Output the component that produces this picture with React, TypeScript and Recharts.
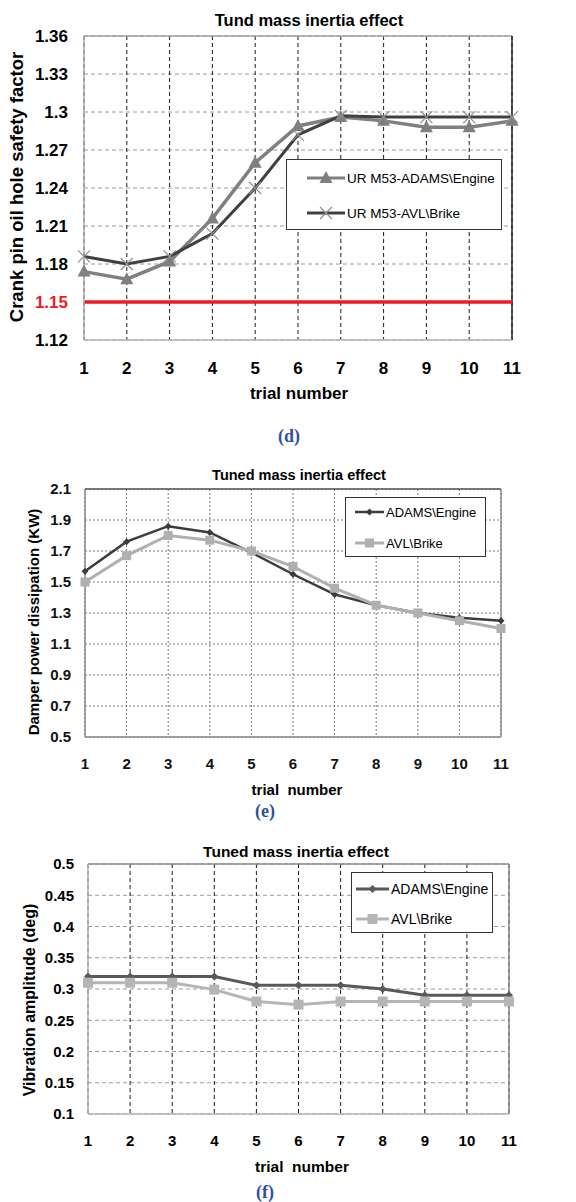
import React from 'react';
import { LineChart, Line, XAxis, YAxis, CartesianGrid, ReferenceLine, Legend } from 'recharts';

const sans = '"Liberation Sans", Arial, sans-serif';
const serif = '"Liberation Serif", "Times New Roman", serif';

// shared x categories
const trials = [1, 2, 3, 4, 5, 6, 7, 8, 9, 10, 11];

// (d) crank pin oil hole safety factor
const safetyAdams = [1.174, 1.168, 1.182, 1.216, 1.26, 1.289, 1.296, 1.293, 1.288, 1.288, 1.293];
const safetyAvl = [1.186, 1.18, 1.186, 1.204, 1.24, 1.282, 1.297, 1.296, 1.296, 1.296, 1.296];
const safetyTicks = [1.12, 1.15, 1.18, 1.21, 1.24, 1.27, 1.3, 1.33, 1.36];
const safetyLimit = 1.15;

// (e) damper power dissipation
const powerAdams = [1.57, 1.76, 1.86, 1.82, 1.69, 1.55, 1.42, 1.35, 1.3, 1.27, 1.25];
const powerAvl = [1.5, 1.67, 1.8, 1.77, 1.7, 1.6, 1.46, 1.35, 1.3, 1.25, 1.2];
const powerTicks = [0.5, 0.7, 0.9, 1.1, 1.3, 1.5, 1.7, 1.9, 2.1];

// (f) vibration amplitude
const ampAdams = [0.32, 0.32, 0.32, 0.32, 0.306, 0.306, 0.306, 0.3, 0.29, 0.29, 0.29];
const ampAvl = [0.31, 0.31, 0.31, 0.299, 0.28, 0.275, 0.28, 0.28, 0.28, 0.28, 0.28];
const ampTicks = [0.1, 0.15, 0.2, 0.25, 0.3, 0.35, 0.4, 0.45, 0.5];

const rows = (a: number[], b: number[]) => trials.map((t, i) => ({ trial: t, adams: a[i], avl: b[i] }));

// markers
const triangle = (cx: number, cy: number, key?: any) => (
  <path key={key} d={`M${cx},${cy - 7}L${cx + 6.5},${cy + 5}L${cx - 6.5},${cy + 5}Z`} fill="#7f7f7f" />
);
const cross = (cx: number, cy: number, key?: any) => (
  <path key={key} d={`M${cx - 6},${cy - 6}L${cx + 6},${cy + 6}M${cx - 6},${cy + 6}L${cx + 6},${cy - 6}`} stroke="#8f8f8f" strokeWidth={1.2} fill="none" />
);
const diamond = (s: number, color: string) => (cx: number, cy: number, key?: any) => (
  <path key={key} d={`M${cx},${cy - s}L${cx + s},${cy}L${cx},${cy + s}L${cx - s},${cy}Z`} fill={color} />
);
const square = (s: number, color: string) => (cx: number, cy: number, key?: any) => (
  <rect key={key} x={cx - s} y={cy - s} width={s * 2} height={s * 2} fill={color} />
);

const asDot = (m: (cx: number, cy: number, key?: any) => React.ReactElement) => (p: any) =>
  p.cx == null ? <g key={p.index} /> : m(p.cx, p.cy, p.index);

type Item = { name: string; color: string; width: number; marker: (cx: number, cy: number, key?: any) => React.ReactElement };

const legendContent = (items: Item[], rowsY: number[], x0: number, x1: number, fontSize: number) => () => (
  <div style={{ position: 'relative', width: '100%', height: '100%', boxSizing: 'border-box', border: '1px solid #333', background: '#fff' }}>
    {items.map((it, i) => (
      <div key={it.name} style={{ position: 'absolute', left: x0, top: rowsY[i] - 10, height: 20, display: 'flex', alignItems: 'center', whiteSpace: 'nowrap' }}>
        <svg width={x1 - x0} height={20} style={{ display: 'block' }}>
          <line x1={0} y1={10} x2={x1 - x0} y2={10} stroke={it.color} strokeWidth={it.width} />
          {it.marker((x1 - x0) / 2, 10)}
        </svg>
        <span style={{ fontFamily: sans, fontSize, color: '#000', marginLeft: 2 }}>{it.name}</span>
      </div>
    ))}
  </div>
);

const Txt = ({ x, y, size, color = '#000', family = sans, rotate = false, children }: any) => (
  <div
    style={{
      position: 'absolute',
      left: x,
      top: y,
      transform: `translate(-50%, -50%)${rotate ? ' rotate(-90deg)' : ''}`,
      whiteSpace: 'pre',
      fontSize: size,
      fontWeight: 'bold',
      fontFamily: family,
      color,
      lineHeight: 1,
    }}
  >
    {children}
  </div>
);

const SafetyTick = (props: any) => {
  const { x, y, payload } = props;
  return (
    <text x={x} y={y} dy="0.36em" textAnchor="end" fontSize={17} fontWeight="bold" fontFamily={sans} fill={payload.value === safetyLimit ? '#ed1c24' : '#000'}>
      {payload.value}
    </text>
  );
};

const SafetyChart = () => {
  const items: Item[] = [
    { name: 'UR M53-ADAMS\\Engine', color: '#808080', width: 3, marker: triangle },
    { name: 'UR M53-AVL\\Brike', color: '#404040', width: 3, marker: cross },
  ];
  return (
    <LineChart width={576} height={400} data={rows(safetyAdams, safetyAvl)} margin={{ top: 36, right: 64, bottom: 30, left: 24 }}>
      <CartesianGrid vertical={false} stroke="#9a9a9a" strokeDasharray="4 3" />
      <CartesianGrid horizontal={false} stroke="#1a1a1a" strokeDasharray="4 3" />
      <XAxis dataKey="trial" type="number" domain={[1, 11]} ticks={trials} interval={0} height={30} tickSize={0} tickMargin={22}
        axisLine={{ stroke: '#b5b5b5', strokeWidth: 1.5 }} tick={{ fontSize: 17, fontWeight: 'bold', fill: '#000', fontFamily: sans }} />
      <YAxis type="number" domain={[1.12, 1.36]} ticks={safetyTicks} interval={0} width={60} tickSize={0} tickMargin={16}
        axisLine={{ stroke: '#a8a8a8', strokeWidth: 1.5 }} tick={<SafetyTick />} />
      <ReferenceLine y={1.36} stroke="#a0a0a0" strokeWidth={1.5} />
      <ReferenceLine x={11} stroke="#222" strokeWidth={1.5} />
      <ReferenceLine y={safetyLimit} stroke="#ed1c24" strokeWidth={3.5} />
      <Line dataKey="adams" name={items[0].name} stroke="#808080" strokeWidth={3.5} dot={asDot(triangle)} activeDot={false} isAnimationActive={false} />
      <Line dataKey="avl" name={items[1].name} stroke="#404040" strokeWidth={3} dot={asDot(cross)} activeDot={false} isAnimationActive={false} />
      <Legend layout="vertical" align="center" verticalAlign="middle" content={legendContent(items, [18, 53], 20, 58, 13.5)}
        wrapperStyle={{ left: 286, top: 159, width: 216, height: 71 }} />
    </LineChart>
  );
};

const PowerChart = () => {
  const items: Item[] = [
    { name: 'ADAMS\\Engine', color: '#3c3c3c', width: 2.5, marker: diamond(3.5, '#3c3c3c') },
    { name: 'AVL\\Brike', color: '#b0b0b0', width: 3, marker: square(4.5, '#b0b0b0') },
  ];
  const tick = { fontSize: 15, fontWeight: 'bold', fill: '#111', fontFamily: sans };
  return (
    <LineChart width={576} height={360} data={rows(powerAdams, powerAvl)} margin={{ top: 49, right: 75, bottom: 33, left: 25 }}>
      <CartesianGrid stroke="#7a7a7a" strokeDasharray="2 2" />
      <XAxis dataKey="trial" type="number" domain={[1, 11]} ticks={trials} interval={0} height={30} tickSize={0} tickMargin={21}
        axisLine={{ stroke: '#8a8a8a', strokeWidth: 1.5 }} tick={tick} />
      <YAxis type="number" domain={[0.5, 2.1]} ticks={powerTicks} interval={0} width={60} tickSize={0} tickMargin={14}
        axisLine={{ stroke: '#8a8a8a', strokeWidth: 1.5 }} tick={tick} />
      <ReferenceLine y={2.1} stroke="#555" strokeWidth={1.5} />
      <ReferenceLine x={11} stroke="#8a8a8a" strokeWidth={1.5} />
      <Line dataKey="adams" name={items[0].name} stroke="#3c3c3c" strokeWidth={2.5} dot={asDot(diamond(3.5, '#3c3c3c'))} activeDot={false} isAnimationActive={false} />
      <Line dataKey="avl" name={items[1].name} stroke="#b0b0b0" strokeWidth={3} dot={asDot(square(4.5, '#b0b0b0'))} activeDot={false} isAnimationActive={false} />
      <Legend layout="vertical" align="center" verticalAlign="middle" content={legendContent(items, [14, 45], 9, 38, 13)}
        wrapperStyle={{ left: 345, top: 57, width: 141, height: 60 }} />
    </LineChart>
  );
};

const AmpChart = () => {
  const items: Item[] = [
    { name: 'ADAMS\\Engine', color: '#595959', width: 3, marker: diamond(4, '#595959') },
    { name: 'AVL\\Brike', color: '#b5b5b5', width: 3, marker: square(5, '#b5b5b5') },
  ];
  const tick = { fontSize: 15, fontWeight: 'bold', fill: '#000', fontFamily: sans };
  return (
    <LineChart width={576} height={340} data={rows(ampAdams, ampAvl)} margin={{ top: 34, right: 67, bottom: 26, left: 28 }}>
      <CartesianGrid vertical={false} stroke="#9a9a9a" strokeDasharray="4 3" />
      <CartesianGrid horizontal={false} stroke="#1a1a1a" strokeDasharray="4 3" />
      <XAxis dataKey="trial" type="number" domain={[1, 11]} ticks={trials} interval={0} height={30} tickSize={0} tickMargin={21}
        axisLine={{ stroke: '#b5b5b5', strokeWidth: 1.5 }} tick={tick} />
      <YAxis type="number" domain={[0.1, 0.5]} ticks={ampTicks} interval={0} width={60} tickSize={0} tickMargin={14}
        axisLine={{ stroke: '#b5b5b5', strokeWidth: 1.5 }} tick={tick} />
      <ReferenceLine y={0.5} stroke="#8a8a8a" strokeWidth={1.5} />
      <ReferenceLine x={11} stroke="#8a8a8a" strokeWidth={1.5} />
      <Line dataKey="adams" name={items[0].name} stroke="#595959" strokeWidth={3} dot={asDot(diamond(4, '#595959'))} activeDot={false} isAnimationActive={false} />
      <Line dataKey="avl" name={items[1].name} stroke="#b5b5b5" strokeWidth={3} dot={asDot(square(5, '#b5b5b5'))} activeDot={false} isAnimationActive={false} />
      <Legend layout="vertical" align="center" verticalAlign="middle" content={legendContent(items, [16, 46], 4, 37, 14)}
        wrapperStyle={{ left: 351, top: 42, width: 142, height: 61 }} />
    </LineChart>
  );
};

const App = () => {
  return (
    <div style={{ position: 'absolute', left: 0, top: 0, width: 576, height: 1202, background: '#fff', overflow: 'hidden' }}>
      <div style={{ position: 'absolute', left: 0, top: 0 }}>
        <SafetyChart />
      </div>
      <Txt x={309} y={20} size={16.5}>Tund mass inertia effect</Txt>
      <Txt x={17} y={187} size={18.5} rotate>Crank pin oil hole safety factor</Txt>
      <Txt x={299} y={393} size={17}>trial number</Txt>
      <Txt x={289} y={436} size={18} color="#2f4f9f" family={serif}>(d)</Txt>

      <div style={{ position: 'absolute', left: 0, top: 440 }}>
        <PowerChart />
      </div>
      <Txt x={299} y={475} size={14.5}>Tuned mass inertia effect</Txt>
      <Txt x={33} y={622} size={15} rotate>Damper power dissipation (KW)</Txt>
      <Txt x={297} y={789} size={15}>trial  number</Txt>
      <Txt x={265} y={811} size={18} color="#2f4f9f" family={serif}>(e)</Txt>

      <div style={{ position: 'absolute', left: 0, top: 830 }}>
        <AmpChart />
      </div>
      <Txt x={296} y={852} size={15.5}>Tuned mass inertia effect</Txt>
      <Txt x={30} y={1000} size={16} rotate>Vibration amplitude (deg)</Txt>
      <Txt x={302} y={1167} size={15.5}>trial  number</Txt>
      <Txt x={265} y={1192} size={18} color="#2f4f9f" family={serif}>(f)</Txt>
    </div>
  );
};

export default App;
